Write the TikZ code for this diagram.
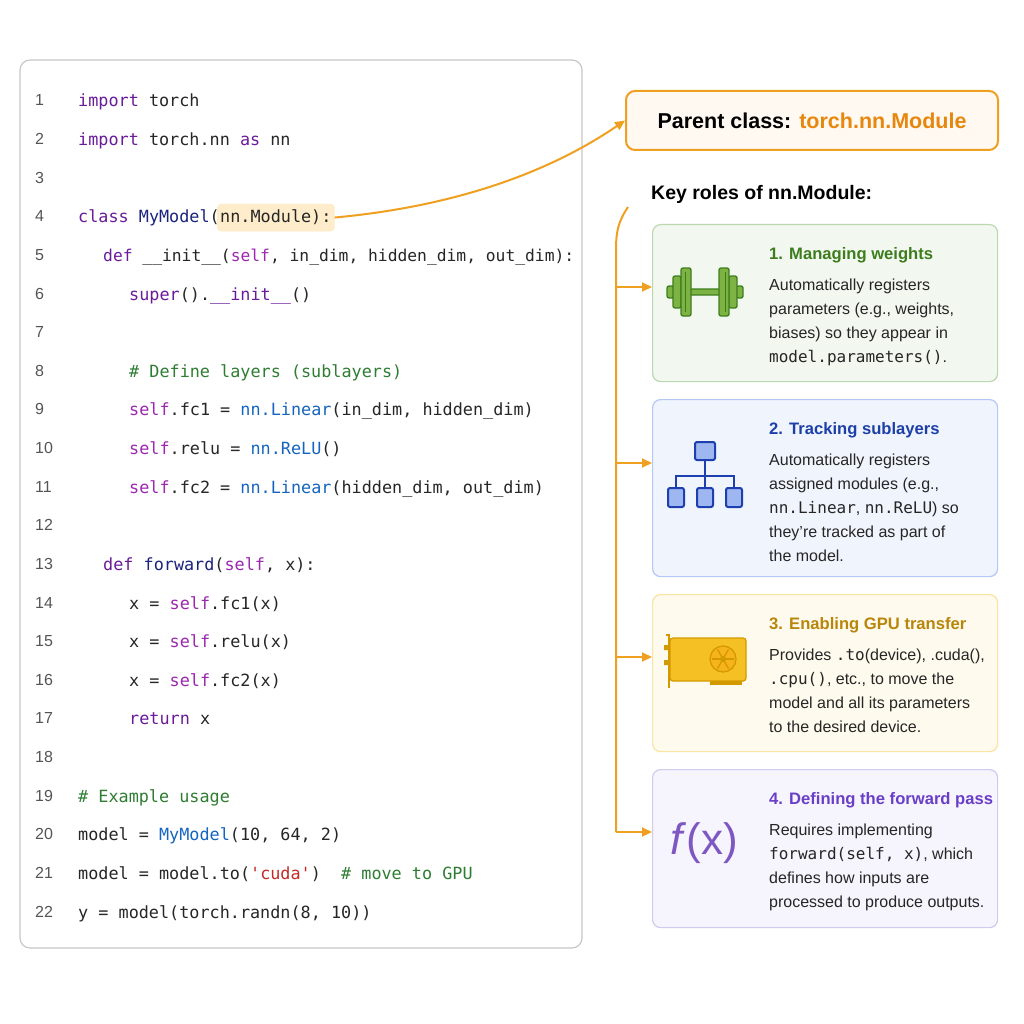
\documentclass[tikz,border=0pt]{standalone}
\usepackage{fontspec}
\setmainfont{Liberation Sans}
\setmonofont{DejaVu Sans Mono}
\usetikzlibrary{arrows.meta}
\definecolor{kw}{HTML}{6A1B9A}
\definecolor{cls}{HTML}{1A237E}
\definecolor{slf}{HTML}{9C27B0}
\definecolor{fn}{HTML}{1565C0}
\definecolor{cm}{HTML}{2E7D32}
\definecolor{st}{HTML}{C62828}
\definecolor{ln}{HTML}{555555}
\definecolor{org}{HTML}{F0A020}
\definecolor{orgt}{HTML}{E8870E}
\definecolor{dk}{HTML}{3E7D1F}\definecolor{lg}{HTML}{7CB342}
\newcommand{\Kw}[1]{\textcolor{kw}{#1}}
\newcommand{\Sf}[1]{\textcolor{slf}{#1}}
\newcommand{\Fn}[1]{\textcolor{fn}{#1}}
\begin{document}
\begin{tikzpicture}[x=1pt,y=-1pt,
  code/.style={anchor=base west,inner sep=0pt,font=\fontsize{16.8}{20}\ttfamily,text=black!85},
  num/.style={anchor=base west,inner sep=0pt,font=\fontsize{16}{18}\selectfont,text=ln},
  card/.style={draw=#1!45,fill=#1!9,line width=1.2pt,rounded corners=8pt},
  ttl/.style={anchor=base west,inner sep=0pt,font=\fontsize{16.6}{20}\selectfont\bfseries},
  body/.style={anchor=north west,inner sep=0pt,align=left,font=\fontsize{16}{24}\selectfont,text=black!85},
  conn/.style={draw=org,line width=2pt},
  tip/.style={-{Triangle[length=10pt,width=9pt]}},
  plate/.style={draw=dk,fill=lg,line width=1.3pt,rounded corners=2pt}]
\useasboundingbox (0,0) rectangle (1024,1024);
\fill[white] (0,0) rectangle (1024,1024);
% code panel
\draw[black!22,line width=1.2pt,fill=white,rounded corners=10pt] (20,60) rectangle (582,948);
\foreach \i in {1,...,22}{
  \node[num] at (35,{100+38.62*(\i-1)+6}) {\i};
}
\def\Y#1{{100+38.62*(#1-1)+7}}
\node[code] (l1) at (78,\Y{1}) {\Kw{import} torch};
\node[code] (l2) at (78,\Y{2}) {\Kw{import} torch.nn \Kw{as} nn};
\node[code] (l4a) at (78,\Y{4}) {\Kw{class} \textcolor{cls}{MyModel}(};
\node[code,fill=yellow!25!orange!18,draw=yellow!50!orange!25,rounded corners=4pt,inner xsep=3pt,inner ysep=6pt,xshift=-3pt] (nm) at (l4a.base east) {nn.Module):};
\node[code,font=\fontsize{16.3}{20}\ttfamily] (l5) at (103,\Y{5}) {\Kw{def} \_\_init\_\_(\Sf{self}, in\_dim, hidden\_dim, out\_dim):};
\node[code] (l6) at (129,\Y{6}) {\Kw{super}().\Kw{\_\_init\_\_}()};
\node[code] (l8) at (129,\Y{8}) {\textcolor{cm}{\# Define layers (sublayers)}};
\node[code] (l9) at (129,\Y{9}) {\Sf{self}.fc1 = \Fn{nn.Linear}(in\_dim, hidden\_dim)};
\node[code] (l10) at (129,\Y{10}) {\Sf{self}.relu = \Fn{nn.ReLU}()};
\node[code] (l11) at (129,\Y{11}) {\Sf{self}.fc2 = \Fn{nn.Linear}(hidden\_dim, out\_dim)};
\node[code] (l13) at (103,\Y{13}) {\Kw{def} \textcolor{cls}{forward}(\Sf{self}, x):};
\node[code] (l14) at (129,\Y{14}) {x = \Sf{self}.fc1(x)};
\node[code] (l15) at (129,\Y{15}) {x = \Sf{self}.relu(x)};
\node[code] (l16) at (129,\Y{16}) {x = \Sf{self}.fc2(x)};
\node[code] (l17) at (129,\Y{17}) {\Kw{return} x};
\node[code] (l19) at (78,\Y{19}) {\textcolor{cm}{\# Example usage}};
\node[code] (l20) at (78,\Y{20}) {model = \Fn{MyModel}(10, 64, 2)};
\node[code] (l21) at (78,\Y{21}) {model = model.to(\textcolor{st}{'cuda'})\ \ \textcolor{cm}{\# move to GPU}};
\node[code] (l22) at (78,\Y{22}) {y = model(torch.randn(8, 10))};
% parent box
\node[draw=org,line width=2pt,fill=orange!5,rounded corners=9pt,minimum width=372pt,minimum height=59pt,anchor=north west,font=\fontsize{21.5}{24}\selectfont\bfseries] (parent) at (625,90) {Parent class: \textcolor{orgt}{torch.nn.Module}};
\draw[conn,tip] (nm.east) .. controls (470,205) and (560,165) .. (parent.west);
\node[anchor=base west,inner sep=0pt,font=\fontsize{19.5}{22}\selectfont\bfseries] (key) at (651,200) {Key roles of nn.Module:};
% cards
\definecolor{gC}{HTML}{6AA84F}\definecolor{bC}{HTML}{5B84E8}\definecolor{yC}{HTML}{F2C232}\definecolor{pC}{HTML}{9C88DC}
\node[card=gC,minimum width=345pt,minimum height=157pt,anchor=north west] (c1) at (652,224) {};
\node[card=bC,minimum width=345pt,minimum height=177pt,anchor=north west] (c2) at (652,399) {};
\node[card=yC,minimum width=345pt,minimum height=157pt,anchor=north west] (c3) at (652,594) {};
\node[card=pC,minimum width=345pt,minimum height=158pt,anchor=north west] (c4) at (652,769) {};
\definecolor{t1}{HTML}{3D7D1E}\definecolor{t2}{HTML}{1D3FA8}\definecolor{t3}{HTML}{B8860B}\definecolor{t4}{HTML}{6A3FC8}
\node[ttl,text=t1] (t1n) at (769,259) {1. Managing weights};
\node[body] (b1) at (769,279) {Automatically registers\\parameters (e.g., weights,\\biases) so they appear in\\\texttt{model.parameters()}.};
\node[ttl,text=t2] (t2n) at (769,434) {2. Tracking sublayers};
\node[body] (b2) at (769,454) {Automatically registers\\assigned modules (e.g.,\\\texttt{nn.Linear}, \texttt{nn.ReLU}) so\\they're tracked as part of\\the model.};
\node[ttl,text=t3] (t3n) at (769,629) {3. Enabling GPU transfer};
\node[body] (b3) at (769,649) {Provides \texttt{.to}(device), .cuda(),\\\texttt{.cpu()}, etc., to move the\\model and all its parameters\\to the desired device.};
\node[ttl,text=t4] (t4n) at (769,804) {4. Defining the forward pass};
\node[body] (b4) at (769,824) {Requires implementing\\\texttt{forward(self, x)}, which\\defines how inputs are\\processed to produce outputs.};
% bracket connectors
\coordinate (k0) at (628,207);
\coordinate (kb) at (616,832);
\draw[conn] (k0) .. controls (618,222) and (616,232) .. (616,250) -- (kb);
\foreach \c/\yy in {c1/287,c2/463,c3/657,c4/832}{
  \coordinate (s\c) at (616,\yy);
  \draw[conn,tip] (s\c) -- (s\c -| \c.west);
}
% dumbbell
\draw[plate,rounded corners=1pt] (689,289) rectangle (721,295);
\draw[plate] (667,286) rectangle (674,298);
\draw[plate] (736,286) rectangle (743,298);
\draw[plate] (673,276) rectangle (681,308);
\draw[plate] (681,268) rectangle (691,316);
\draw[plate] (729,276) rectangle (737,308);
\draw[plate] (719,268) rectangle (729,316);
\draw[dk,line width=1pt] (685,272) -- (685,312) (725,272) -- (725,312);
% tree icon
\definecolor{tb}{HTML}{1E3FB0}\definecolor{tf}{HTML}{9FB7F0}
\draw[tb,line width=2pt] (705,460) -- (705,476) (676,488) -- (676,476) -- (734,476) -- (734,488) (705,476) -- (705,488);
\foreach \xx in {676,705,734}{\draw[tb,fill=tf,line width=2pt,rounded corners=2pt] (\xx-8,488) rectangle (\xx+8,507);}
\draw[tb,fill=tf,line width=2pt,rounded corners=2pt] (695,442) rectangle (715,460);
% gpu
\definecolor{gf}{HTML}{F5C023}\definecolor{gd}{HTML}{D39A00}
\draw[gd,line width=2pt] (666,635) -- (669,635) -- (669,688);
\fill[gd] (664,645) rectangle (669,650) (664,660) rectangle (669,665);
\draw[gd,fill=gf,line width=1.3pt,rounded corners=3pt] (670,638) rectangle (746,681);
\fill[gd] (710,681) rectangle (742,685);
\draw[gd,fill=gf!80!orange,line width=1.3pt] (723,659) circle (13);
\foreach \a in {0,60,...,300}{\draw[gd,line width=1.3pt] (723,659) -- ++(\a:11);}
\fill[gd] (723,659) circle (3);
% f(x)
\definecolor{fxc}{HTML}{7E57C2}
\node[font=\fontsize{44}{48}\selectfont,text=fxc,inner sep=0pt] (fx) at (704,843) {\textit{f}(x)};
\end{tikzpicture}
\end{document}
